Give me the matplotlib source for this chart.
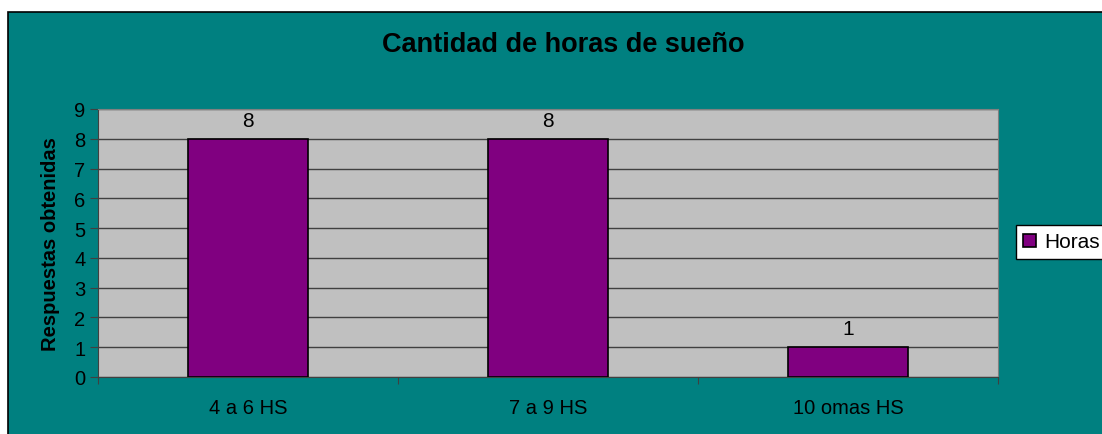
import matplotlib
matplotlib.use("Agg")
import matplotlib.pyplot as plt
from matplotlib.patches import Rectangle

categories = ["4 a 6 HS", "7 a 9 HS", "10 omas HS"]
values = [8, 8, 1]
series_name = "Horas"
yticks = list(range(0, 10))

plt.rcParams['font.family'] = ['Liberation Sans', 'DejaVu Sans']

W, H = 1102, 435
fig = plt.figure(figsize=(W / 100, H / 100), dpi=100, facecolor="white")

# teal chart area background
bg = Rectangle((8 / W, -0.05), 1.1, (H - 13) / H + 0.05,
               transform=fig.transFigure, facecolor="#008080",
               edgecolor="black", linewidth=1.2, zorder=-10)
fig.patches.append(bg)

ax = fig.add_axes([98 / W, (H - 378) / H, 900 / W, 268 / H], zorder=1)
ax.set_facecolor("#C0C0C0")
x = range(len(categories))
bars = ax.bar(x, values, width=0.4, color="#800080", edgecolor="black",
              linewidth=1.2, zorder=3, label=series_name)
ax.set_xlim(-0.5, len(categories) - 0.5)
ax.set_ylim(0, 9)
ax.set_yticks(yticks)
ax.set_yticklabels([str(t) for t in yticks], fontsize=14.5)
ax.set_xticks([i - 0.5 for i in range(len(categories) + 1)], minor=False)
ax.set_xticklabels([])
ax.set_xticks(list(x), minor=True)
ax.set_xticklabels(categories, minor=True, fontsize=14.5)
ax.tick_params(axis="x", which="minor", length=0, pad=15)
ax.tick_params(axis="x", which="major", length=5, direction="out", color="#404040")
ax.tick_params(axis="y", length=6, color="#404040", pad=3)
ax.yaxis.grid(True, color="#404040", linewidth=1, zorder=1)
ax.set_axisbelow(True)
for s in ["top", "right"]:
    ax.spines[s].set_color("#808080")
for s in ["left", "bottom"]:
    ax.spines[s].set_color("#404040")
ax.set_ylabel("Respuestas obtenidas", fontsize=14.5, fontweight="bold", labelpad=10)

for b, v in zip(bars, values):
    ax.text(b.get_x() + b.get_width() / 2, v + 0.3, str(v), ha="center",
            va="bottom", fontsize=15)

fig.text(563 / W, 1 - 45 / H, "Cantidad de horas de sueño", ha="center",
         va="center", fontsize=19.5, fontweight="bold")

leg = fig.legend(handles=[bars], labels=[series_name], loc="center left",
                 bbox_to_anchor=(1016 / W, 1 - 243 / H), fontsize=15,
                 frameon=True, fancybox=False, edgecolor="black",
                 facecolor="white", framealpha=1,
                 handlelength=0.6, handleheight=0.6, handletextpad=0.4,
                 borderpad=0.35, borderaxespad=0)
leg.get_frame().set_linewidth(1)

fig.savefig("out.png", dpi=100, facecolor="white")
